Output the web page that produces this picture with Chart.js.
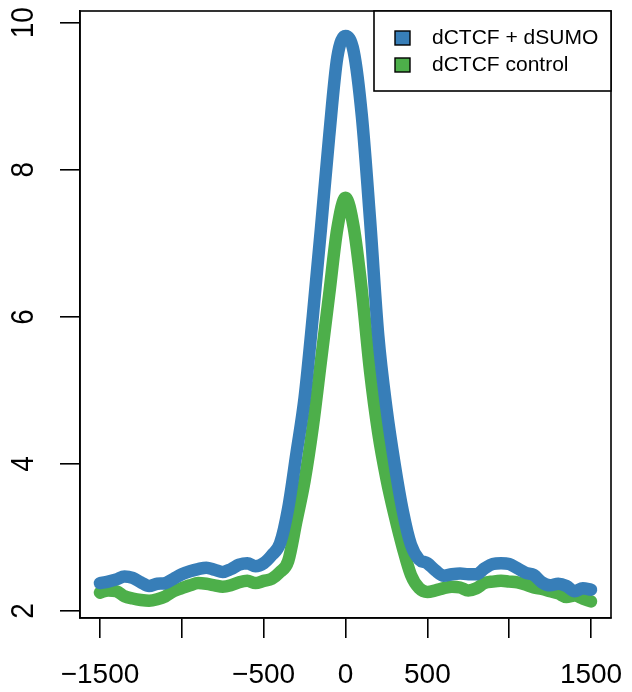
<!DOCTYPE html>
<html>
<head>
<meta charset="utf-8">
<script src="https://cdn.jsdelivr.net/npm/chart.js@4.4.1/dist/chart.umd.min.js"></script>
<style>
  html, body { margin: 0; padding: 0; background: #fff; }
  #wrap { width: 632px; height: 692px; }
</style>
</head>
<body>
<div id="wrap"><canvas id="c" width="632" height="692"></canvas></div>
<script>
const positions = [-1500,-1450,-1400,-1350,-1300,-1250,-1200,-1150,-1100,-1050,-1000,-950,-900,-850,-800,-750,-700,-650,-600,-550,-500,-450,-400,-350,-300,-250,-200,-150,-100,-50,0,50,100,150,200,250,300,350,400,450,500,550,600,650,700,750,800,850,900,950,1000,1050,1100,1150,1200,1250,1300,1350,1400,1450,1500];

const sumoValues = [2.38,2.40,2.43,2.47,2.45,2.39,2.34,2.37,2.38,2.44,2.50,2.54,2.57,2.59,2.56,2.53,2.57,2.63,2.65,2.61,2.65,2.76,2.92,3.40,4.14,4.90,6.00,7.20,8.45,9.53,9.82,9.61,8.73,7.32,5.75,4.76,4.00,3.36,2.90,2.70,2.65,2.55,2.48,2.50,2.51,2.50,2.50,2.58,2.64,2.65,2.64,2.58,2.52,2.49,2.39,2.35,2.37,2.34,2.27,2.31,2.29];

const controlValues = [2.25,2.28,2.27,2.20,2.17,2.15,2.14,2.16,2.20,2.27,2.31,2.35,2.38,2.37,2.35,2.33,2.35,2.39,2.41,2.38,2.41,2.44,2.53,2.68,3.22,3.77,4.50,5.40,6.30,7.20,7.62,7.22,6.35,5.26,4.42,3.80,3.30,2.86,2.49,2.31,2.26,2.28,2.31,2.33,2.32,2.28,2.31,2.38,2.40,2.41,2.40,2.39,2.36,2.32,2.30,2.27,2.24,2.19,2.21,2.17,2.13];

const seriesLabels = ['dCTCF + dSUMO', 'dCTCF control'];
const xTicks = [-1500,-1000,-500,0,500,1000,1500];
const xTickLabels = ['\u22121500','','\u2212500','0','500','','1500'];
const yTicks = [2,4,6,8,10];
const yTickLabels = ['2','4','6','8','10'];

const BLUE = '#377EB8';
const GREEN = '#4DAF4A';
const FONT = '"Liberation Sans", Arial, Helvetica, sans-serif';

const boxPlugin = {
  id: 'boxPlugin',
  afterDraw(chart) {
    const ctx = chart.ctx;
    const a = chart.chartArea;
    ctx.save();
    ctx.strokeStyle = '#000';
    ctx.lineWidth = 1.6;
    ctx.strokeRect(a.left, a.top, a.right - a.left, a.bottom - a.top);

    // rotated y labels
    const ys = chart.scales.y;
    ctx.fillStyle = '#000';
    ctx.font = '28px ' + FONT;
    ctx.textAlign = 'center';
    ctx.textBaseline = 'middle';
    yTicks.forEach((v, i) => {
      const py = ys.getPixelForValue(v);
      ctx.save();
      ctx.translate(24, py);
      ctx.scale(1.14, 1);
      ctx.rotate(-Math.PI / 2);
      ctx.fillText(yTickLabels[i], 0, 0);
      ctx.restore();
    });

    // legend
    const lx = 374, ly = a.top, lw = a.right - 374, lh = 80;
    ctx.fillStyle = '#fff';
    ctx.fillRect(lx, ly, lw, lh);
    ctx.strokeStyle = '#000';
    ctx.lineWidth = 1.6;
    ctx.strokeRect(lx, ly, lw, lh);
    ctx.font = '21px ' + FONT;
    ctx.textAlign = 'left';
    ctx.textBaseline = 'middle';
    chart.data.datasets.forEach((ds, i) => {
      const cy = ly + 27 + i * 27;
      ctx.fillStyle = ds.borderColor;
      ctx.fillRect(395, cy - 7, 15, 14);
      ctx.lineWidth = 1.4;
      ctx.strokeStyle = '#000';
      ctx.strokeRect(395, cy - 7, 15, 14);
      ctx.fillStyle = '#000';
      ctx.fillText(ds.label, 432, cy);
    });
    ctx.restore();
  }
};

new Chart(document.getElementById('c'), {
  type: 'line',
  data: {
    datasets: [
      {
        label: seriesLabels[0],
        data: positions.map((x, i) => ({ x: x, y: sumoValues[i] })),
        borderColor: BLUE,
        backgroundColor: BLUE,
        borderWidth: 12.5,
        pointRadius: 0,
        cubicInterpolationMode: 'monotone',
        borderCapStyle: 'round',
        borderJoinStyle: 'round',
        fill: false
      },
      {
        label: seriesLabels[1],
        data: positions.map((x, i) => ({ x: x, y: controlValues[i] })),
        borderColor: GREEN,
        backgroundColor: GREEN,
        borderWidth: 12.5,
        pointRadius: 0,
        cubicInterpolationMode: 'monotone',
        borderCapStyle: 'round',
        borderJoinStyle: 'round',
        fill: false
      }
    ]
  },
  options: {
    responsive: false,
    animation: false,
    devicePixelRatio: 1,
    layout: { padding: { left: 0, top: 11, right: 21, bottom: 0 } },
    plugins: { legend: { display: false }, tooltip: { enabled: false } },
    scales: {
      x: {
        type: 'linear',
        min: -1622,
        max: 1622,
        afterBuildTicks(scale) { scale.ticks = xTicks.map(v => ({ value: v })); },
        afterFit(scale) { scale.height = 74; scale.paddingLeft = 0; scale.paddingRight = 0; },
        ticks: {
          autoSkip: false,
          maxRotation: 0,
          minRotation: 0,
          padding: 20,
          color: '#000',
          font: { size: 28, family: FONT },
          callback: (v) => { const i = xTicks.indexOf(v); return i >= 0 ? xTickLabels[i] : ''; }
        },
        grid: { drawOnChartArea: false, drawTicks: true, tickLength: 20, color: '#000', lineWidth: 1.6 },
        border: { display: true, color: '#000', width: 1.6 }
      },
      y: {
        type: 'linear',
        min: 1.905,
        max: 10.16,
        afterBuildTicks(scale) { scale.ticks = yTicks.map(v => ({ value: v })); },
        afterFit(scale) { scale.width = 80; scale.paddingTop = 0; scale.paddingBottom = 0; },
        ticks: { display: false },
        grid: { drawOnChartArea: false, drawTicks: true, tickLength: 20, color: '#000', lineWidth: 1.6 },
        border: { display: true, color: '#000', width: 1.6 }
      }
    }
  },
  plugins: [boxPlugin]
});
</script>
</body>
</html>
